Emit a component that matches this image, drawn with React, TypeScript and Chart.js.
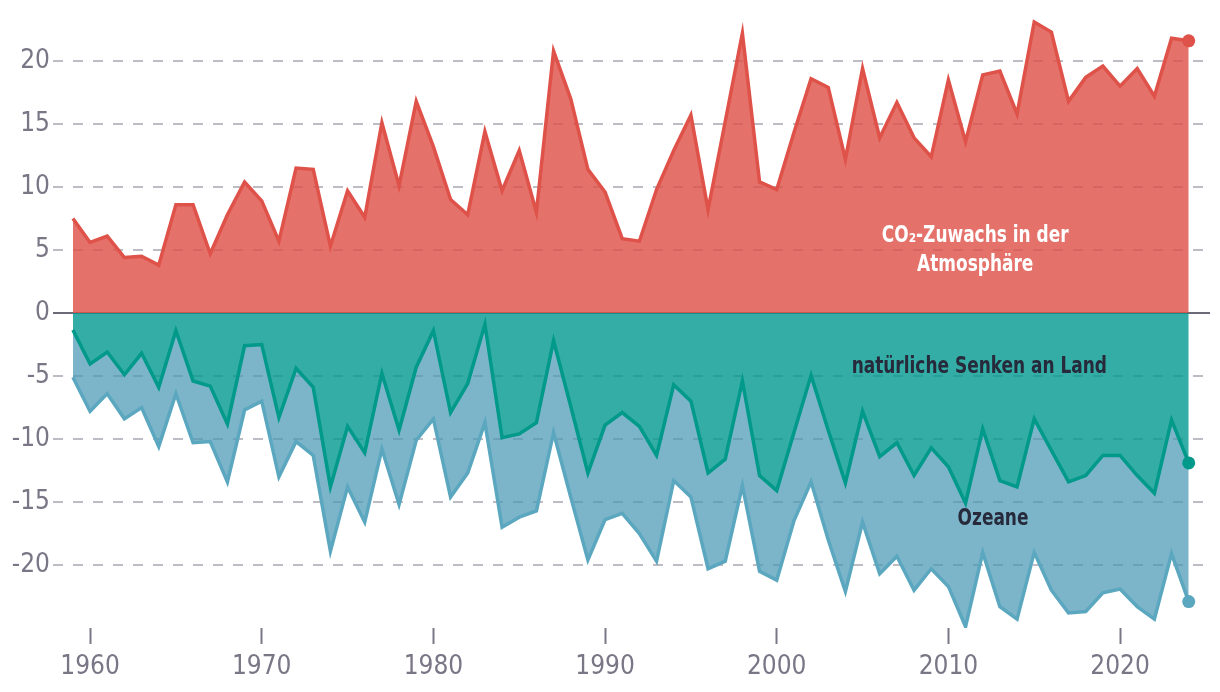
import React, { useEffect, useRef } from "react";
import { Chart, registerables } from "chart.js";

Chart.register(...registerables);

const years = [
  1959, 1960, 1961, 1962, 1963, 1964, 1965, 1966, 1967, 1968, 1969,
  1970, 1971, 1972, 1973, 1974, 1975, 1976, 1977, 1978, 1979,
  1980, 1981, 1982, 1983, 1984, 1985, 1986, 1987, 1988, 1989,
  1990, 1991, 1992, 1993, 1994, 1995, 1996, 1997, 1998, 1999,
  2000, 2001, 2002, 2003, 2004, 2005, 2006, 2007, 2008, 2009,
  2010, 2011, 2012, 2013, 2014, 2015, 2016, 2017, 2018, 2019,
  2020, 2021, 2022, 2023, 2024,
];

// CO2 growth in the atmosphere
const co2Growth = [
  7.5, 5.6, 6.1, 4.4, 4.5, 3.8, 8.6, 8.6, 4.7, 7.8, 10.4,
  8.9, 5.7, 11.5, 11.4, 5.3, 9.7, 7.6, 15.1, 10.1, 16.8,
  13.2, 9.0, 7.8, 14.4, 9.7, 12.9, 8.0, 20.8, 17.0, 11.4,
  9.6, 5.9, 5.7, 9.8, 12.9, 15.7, 8.2, 15.2, 22.2, 10.4,
  9.8, 14.3, 18.6, 17.9, 12.2, 19.4, 13.9, 16.7, 13.9, 12.4,
  18.5, 13.6, 18.9, 19.2, 15.8, 23.1, 22.3, 16.8, 18.7, 19.6,
  18.0, 19.4, 17.2, 21.8, 21.6,
];

// natural land sink (negative)
const landSink = [
  -1.35, -4.05, -3.1, -4.9, -3.2, -5.9, -1.4, -5.4, -5.8, -8.8, -2.6,
  -2.5, -8.3, -4.4, -5.9, -13.8, -9.0, -11.1, -4.8, -9.3, -4.3,
  -1.4, -7.9, -5.6, -0.9, -9.9, -9.6, -8.7, -2.2, -7.4, -12.7,
  -8.9, -7.9, -9.0, -11.3, -5.7, -7.0, -12.7, -11.6, -5.4, -12.9,
  -14.1, -9.5, -4.95, -9.3, -13.5, -7.8, -11.4, -10.3, -12.9, -10.7,
  -12.2, -15.1, -9.2, -13.3, -13.8, -8.4, -10.9, -13.4, -12.9, -11.3,
  -11.3, -12.9, -14.3, -8.5, -11.9,
];

// land sink + ocean sink (stacked lower edge)
const landPlusOcean = [
  -5.1, -7.8, -6.4, -8.4, -7.5, -10.6, -6.4, -10.3, -10.2, -13.4, -7.7,
  -7.0, -13.0, -10.2, -11.3, -18.9, -13.8, -16.6, -10.8, -15.2, -10.1,
  -8.4, -14.6, -12.7, -8.7, -17.0, -16.2, -15.7, -9.5, -14.6, -19.6,
  -16.4, -15.9, -17.5, -19.7, -13.3, -14.6, -20.3, -19.7, -13.7, -20.5,
  -21.2, -16.5, -13.4, -18.0, -22.1, -16.6, -20.7, -19.3, -22.0, -20.3,
  -21.7, -24.9, -19.0, -23.3, -24.3, -19.0, -22.0, -23.8, -23.7, -22.2,
  -21.9, -23.3, -24.3, -19.1, -22.9,
];

const yTickValues = [-20, -15, -10, -5, 0, 5, 10, 15, 20];

const areaLabels = [
  { lines: ["CO₂-Zuwachs in der", "Atmosphäre"], x: 2011.56, y: 4.95, color: "#ffffff" },
  { lines: ["natürliche Senken an Land"], x: 2011.8, y: -4.3, color: "#262a3b" },
  { lines: ["Ozeane"], x: 2012.6, y: -16.35, color: "#262a3b" },
];

const FONT = "'DejaVu Sans Condensed', 'DejaVu Sans', sans-serif";

export default function App() {
  const canvasRef = useRef<HTMLCanvasElement | null>(null);

  useEffect(() => {
    const canvas = canvasRef.current;
    if (!canvas) return;
    const last = years.length - 1;
    const toPts = (vals: number[]) => years.map((yr, i) => ({ x: yr, y: vals[i] }));

    const labelPlugin = {
      id: "areaLabels",
      afterDatasetsDraw(chart: any) {
        const { ctx, scales } = chart;
        ctx.save();
        ctx.font = `bold 23px ${FONT}`;
        ctx.textAlign = "center";
        ctx.textBaseline = "middle";
        const lh = 29;
        areaLabels.forEach((lab) => {
          const cx = scales.x.getPixelForValue(lab.x);
          const cy = scales.y.getPixelForValue(lab.y);
          ctx.fillStyle = lab.color;
          const n = lab.lines.length;
          lab.lines.forEach((t, i) => {
            ctx.save();
            ctx.translate(cx, cy + (i - (n - 1) / 2) * lh);
            ctx.scale(0.82, 1);
            ctx.fillText(t, 0, 0);
            ctx.restore();
          });
        });
        ctx.restore();
      },
    };

    const zeroPad = (scale: any) => {
      scale.paddingTop = 0;
      scale.paddingBottom = 0;
      scale.paddingLeft = 0;
      scale.paddingRight = 0;
    };

    const chart = new Chart(canvas, {
      type: "line",
      data: {
        datasets: [
          {
            label: "CO2",
            data: toPts(co2Growth),
            borderColor: "#df5249",
            backgroundColor: "rgba(222,82,73,0.82)",
            fill: "origin",
            borderWidth: 3.5,
            tension: 0,
            pointRadius: (c: any) => (c.dataIndex === last ? 6.5 : 0),
            pointBackgroundColor: "#df5249",
            pointBorderWidth: 0,
          },
          {
            label: "Land",
            data: toPts(landSink),
            borderColor: "#00998a",
            backgroundColor: "rgba(0,152,142,0.8)",
            fill: "origin",
            borderWidth: 3.5,
            tension: 0,
            pointRadius: (c: any) => (c.dataIndex === last ? 6.5 : 0),
            pointBackgroundColor: "#00998a",
            pointBorderWidth: 0,
          },
          {
            label: "Ozeane",
            data: toPts(landPlusOcean),
            borderColor: "#5ba7bf",
            backgroundColor: "rgba(74,152,180,0.72)",
            fill: "-1",
            borderWidth: 3.5,
            tension: 0,
            pointRadius: (c: any) => (c.dataIndex === last ? 6.5 : 0),
            pointBackgroundColor: "#5ba7bf",
            pointBorderWidth: 0,
          },
        ],
      },
      options: {
        responsive: false,
        animation: false,
        devicePixelRatio: 1,
        layout: { padding: { left: 0, right: 10, top: 10.6, bottom: 0 } },
        plugins: {
          legend: { display: false },
          tooltip: { enabled: false },
        },
        elements: { line: { borderJoinStyle: "miter" } },
        scales: {
          x: {
            type: "linear",
            min: 1957.84,
            max: 2025.24,
            afterBuildTicks: (scale: any) => {
              scale.ticks = years
                .filter((y) => y % 10 === 0)
                .map((v) => ({ value: v }));
            },
            afterFit: (scale: any) => {
              scale.height = 64;
              zeroPad(scale);
            },
            ticks: {
              autoSkip: false,
              maxRotation: 0,
              padding: 8,
              color: "#7a7686",
              font: { family: FONT, size: 26 },
              callback: (v: any) => String(v),
            },
            grid: {
              drawOnChartArea: false,
              drawTicks: true,
              tickLength: 16,
              tickWidth: 2,
              tickColor: "#7a7686",
            },
            border: { display: false },
          },
          y: {
            type: "linear",
            min: -25,
            max: 24,
            afterBuildTicks: (scale: any) => {
              scale.ticks = yTickValues.map((v) => ({ value: v }));
            },
            afterFit: (scale: any) => {
              scale.width = 53;
              zeroPad(scale);
            },
            ticks: {
              padding: 3,
              color: "#7a7686",
              font: { family: FONT, size: 26 },
              callback: (v: any) => String(v),
            },
            grid: {
              drawTicks: false,
              lineWidth: 2,
              color: (c: any) => (c.tick && c.tick.value === 0 ? "#6d6a78" : "#bdbcc4"),
            },
            border: {
              display: false,
              dash: (c: any) => (c.tick && c.tick.value === 0 ? [] : [10, 10]),
            },
          },
        },
      },
      plugins: [labelPlugin],
    } as any);

    return () => {
      chart.destroy();
    };
  }, []);

  return (
    <div style={{ position: "fixed", left: 0, top: 0, width: 1220, height: 692, background: "#ffffff" }}>
      <canvas ref={canvasRef} width={1220} height={692} style={{ display: "block", width: 1220, height: 692 }} />
    </div>
  );
}
